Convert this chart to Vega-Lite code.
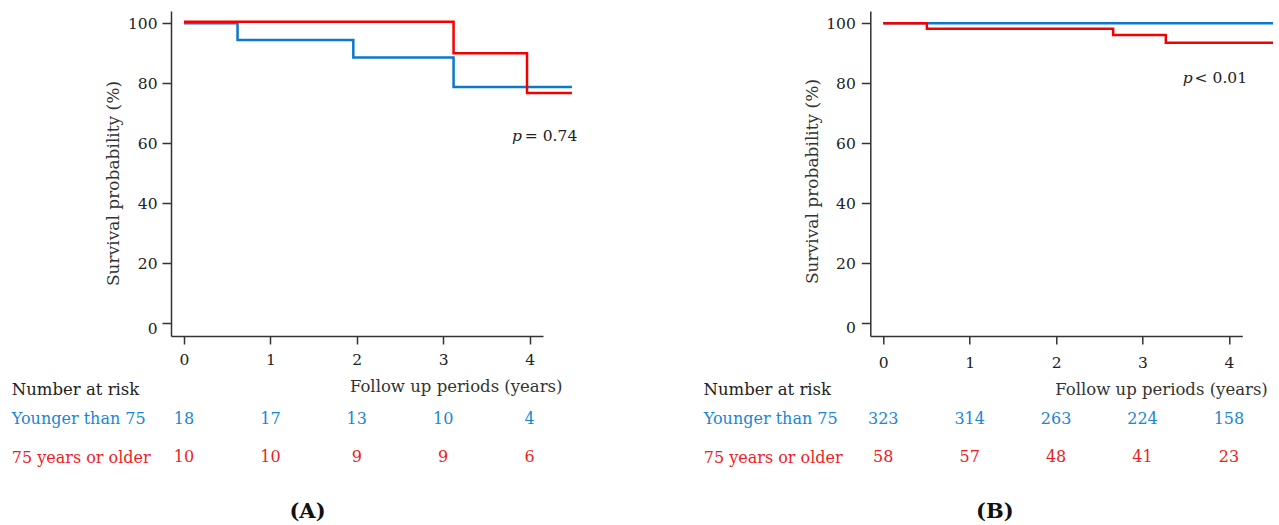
{
  "$schema": "https://vega.github.io/schema/vega-lite/v6.json",
  "background": "white",
  "padding": {"left": 11, "top": 11, "right": 5, "bottom": 5},
  "config": {
    "font": "DejaVu Serif",
    "view": {"stroke": null},
    "axis": {
      "grid": false,
      "domainColor": "#333333",
      "domainWidth": 1.5,
      "tickColor": "#333333",
      "tickWidth": 1.5,
      "labelColor": "#222222",
      "titleColor": "#333333",
      "labelFont": "DejaVu Serif",
      "titleFont": "DejaVu Serif",
      "labelFontSize": 15.5,
      "titleFontSize": 16.5,
      "titleFontWeight": "normal",
      "labelFlush": false
    },
    "text": {"font": "DejaVu Serif"}
  },
  "datasets": {
    "survA": [
      {"time": 0, "surv": 100, "group": "Younger than 75"},
      {"time": 0.62, "surv": 94.4, "group": "Younger than 75"},
      {"time": 1.96, "surv": 88.6, "group": "Younger than 75"},
      {"time": 3.12, "surv": 78.8, "group": "Younger than 75"},
      {"time": 4.49, "surv": 78.8, "group": "Younger than 75"},
      {"time": 0, "surv": 100.5, "group": "75 years or older"},
      {"time": 3.12, "surv": 90.0, "group": "75 years or older"},
      {"time": 3.97, "surv": 76.8, "group": "75 years or older"},
      {"time": 4.49, "surv": 76.8, "group": "75 years or older"}
    ],
    "survB": [
      {"time": 0, "surv": 100, "group": "Younger than 75"},
      {"time": 4.51, "surv": 100, "group": "Younger than 75"},
      {"time": 0, "surv": 100, "group": "75 years or older"},
      {"time": 0.505, "surv": 98.2, "group": "75 years or older"},
      {"time": 2.66, "surv": 96.1, "group": "75 years or older"},
      {"time": 3.27, "surv": 93.5, "group": "75 years or older"},
      {"time": 4.51, "surv": 93.5, "group": "75 years or older"}
    ],
    "riskA": [
      {"time": 0, "n": 18, "group": "Younger than 75"},
      {"time": 1, "n": 17, "group": "Younger than 75"},
      {"time": 2, "n": 13, "group": "Younger than 75"},
      {"time": 3, "n": 10, "group": "Younger than 75"},
      {"time": 4, "n": 4, "group": "Younger than 75"},
      {"time": 0, "n": 10, "group": "75 years or older"},
      {"time": 1, "n": 10, "group": "75 years or older"},
      {"time": 2, "n": 9, "group": "75 years or older"},
      {"time": 3, "n": 9, "group": "75 years or older"},
      {"time": 4, "n": 6, "group": "75 years or older"}
    ],
    "riskB": [
      {"time": 0, "n": 323, "group": "Younger than 75"},
      {"time": 1, "n": 314, "group": "Younger than 75"},
      {"time": 2, "n": 263, "group": "Younger than 75"},
      {"time": 3, "n": 224, "group": "Younger than 75"},
      {"time": 4, "n": 158, "group": "Younger than 75"},
      {"time": 0, "n": 58, "group": "75 years or older"},
      {"time": 1, "n": 57, "group": "75 years or older"},
      {"time": 2, "n": 48, "group": "75 years or older"},
      {"time": 3, "n": 41, "group": "75 years or older"},
      {"time": 4, "n": 23, "group": "75 years or older"}
    ]
  },
  "columns": 2,
  "bounds": "flush",
  "spacing": {"row": 63.5, "column": 327.3},
  "resolve": {"scale": {"color": "independent"}},
  "concat": [
    {
      "width": 372,
      "height": 325,
      "layer": [
        {
          "data": {"name": "survA"},
          "mark": {"type": "line", "interpolate": "step-after", "strokeWidth": 2.5, "clip": false},
          "encoding": {
            "x": {
              "field": "time", "type": "quantitative",
              "scale": {"domain": [-0.15, 4.155], "nice": false, "zero": false},
              "axis": {
                "values": [0, 1, 2, 3, 4], "format": "d", "tickSize": 8, "labelPadding": 20,
                "labelBaseline": "alphabetic", "labelAngle": 0,
                "title": "Follow up periods (years)", "titleX": 391, "titleY": 55,
                "titleAlign": "right", "titleBaseline": "alphabetic"
              }
            },
            "y": {
              "field": "surv", "type": "quantitative",
              "scale": {"domain": [-4.2, 104.1], "nice": false, "zero": false},
              "axis": {
                "values": [0, 20, 40, 60, 80, 100], "tickSize": 9, "labelPadding": 5,
                "labelOffset": {"condition": {"test": "datum.value == 0", "value": 5}, "value": 0},
                "title": "Survival probability (%)", "titleX": -57.5, "titleY": 172,
                "titleBaseline": "middle", "titleAlign": "center", "titleAngle": -90, "titleFontSize": 17
              }
            },
            "color": {
              "field": "group", "type": "nominal",
              "scale": {"domain": ["Younger than 75", "75 years or older"], "range": ["#0b78cc", "#f50000"]},
              "legend": null
            }
          }
        },
        {
          "data": {"values": [{}]},
          "mark": {"type": "text", "fontStyle": "italic", "align": "right", "baseline": "alphabetic", "fontSize": 15.5, "color": "#222222"},
          "encoding": {"x": {"datum": 3.91}, "y": {"datum": 60.8}, "text": {"value": "p"}}
        },
        {
          "data": {"values": [{}]},
          "mark": {"type": "text", "align": "left", "baseline": "alphabetic", "fontSize": 15.5, "dx": 3, "color": "#222222"},
          "encoding": {"x": {"datum": 3.91}, "y": {"datum": 60.8}, "text": {"value": "= 0.74"}}
        }
      ]
    },
    {
      "width": 372,
      "height": 325,
      "layer": [
        {
          "data": {"name": "survB"},
          "mark": {"type": "line", "interpolate": "step-after", "strokeWidth": 2.5, "clip": false},
          "encoding": {
            "x": {
              "field": "time", "type": "quantitative",
              "scale": {"domain": [-0.15, 4.155], "nice": false, "zero": false},
              "axis": {
                "values": [0, 1, 2, 3, 4], "format": "d", "tickSize": 8, "labelPadding": 23,
                "labelBaseline": "alphabetic", "labelAngle": 0,
                "title": "Follow up periods (years)", "titleX": 397, "titleY": 58,
                "titleAlign": "right", "titleBaseline": "alphabetic"
              }
            },
            "y": {
              "field": "surv", "type": "quantitative",
              "scale": {"domain": [-4.2, 104.1], "nice": false, "zero": false},
              "axis": {
                "values": [0, 20, 40, 60, 80, 100], "tickSize": 9, "labelPadding": 6,
                "labelOffset": {"condition": {"test": "datum.value == 0", "value": 4}, "value": 0},
                "title": "Survival probability (%)", "titleX": -58.3, "titleY": 170,
                "titleBaseline": "middle", "titleAlign": "center", "titleAngle": -90, "titleFontSize": 17
              }
            },
            "color": {
              "field": "group", "type": "nominal",
              "scale": {"domain": ["Younger than 75", "75 years or older"], "range": ["#0b78cc", "#f50000"]},
              "legend": null
            }
          }
        },
        {
          "data": {"values": [{}]},
          "mark": {"type": "text", "fontStyle": "italic", "align": "right", "baseline": "alphabetic", "fontSize": 15.5, "color": "#222222"},
          "encoding": {"x": {"datum": 3.58}, "y": {"datum": 80.1}, "text": {"value": "p"}}
        },
        {
          "data": {"values": [{}]},
          "mark": {"type": "text", "align": "left", "baseline": "alphabetic", "fontSize": 15.5, "dx": 2, "color": "#222222"},
          "encoding": {"x": {"datum": 3.58}, "y": {"datum": 80.1}, "text": {"value": "< 0.01"}}
        }
      ]
    },
    {
      "width": 372,
      "height": 77,
      "data": {"name": "riskA"},
      "mark": {"type": "text", "fontSize": 16, "baseline": "middle", "align": "center"},
      "encoding": {
        "x": {
          "field": "time", "type": "quantitative",
          "scale": {"domain": [-0.15, 4.155], "nice": false, "zero": false},
          "axis": {
            "labels": false, "ticks": false, "domain": false,
            "title": "(A)", "titleFontWeight": "bold", "titleFontSize": 21, "titleColor": "#111111",
            "titleX": 136, "titleY": 41, "titleAlign": "center", "titleBaseline": "alphabetic"
          }
        },
        "y": {
          "field": "group", "type": "nominal",
          "scale": {"type": "point", "domain": ["Younger than 75", "75 years or older"], "padding": 0.5},
          "axis": {
            "title": "Number at risk", "titleAngle": 0, "titleAlign": "left", "titleBaseline": "alphabetic",
            "titleX": -159.7, "titleY": -5, "titleFontSize": 16.5, "titleColor": "#222222",
            "labelAlign": "left", "labelPadding": 159.7, "ticks": false, "tickSize": 0, "domain": false,
            "labelFontSize": 16,
            "labelColor": {"condition": {"test": "datum.value == 'Younger than 75'", "value": "#1a86d4"}, "value": "#ee1d23"}
          }
        },
        "text": {"field": "n", "type": "quantitative"},
        "color": {
          "field": "group", "type": "nominal",
          "scale": {"domain": ["Younger than 75", "75 years or older"], "range": ["#1a86d4", "#ee1d23"]},
          "legend": null
        }
      }
    },
    {
      "width": 372,
      "height": 77,
      "data": {"name": "riskB"},
      "mark": {"type": "text", "fontSize": 16, "baseline": "middle", "align": "center"},
      "encoding": {
        "x": {
          "field": "time", "type": "quantitative",
          "scale": {"domain": [-0.15, 4.155], "nice": false, "zero": false},
          "axis": {
            "labels": false, "ticks": false, "domain": false,
            "title": "(B)", "titleFontWeight": "bold", "titleFontSize": 21, "titleColor": "#111111",
            "titleX": 124, "titleY": 41, "titleAlign": "center", "titleBaseline": "alphabetic"
          }
        },
        "y": {
          "field": "group", "type": "nominal",
          "scale": {"type": "point", "domain": ["Younger than 75", "75 years or older"], "padding": 0.5},
          "axis": {
            "title": "Number at risk", "titleAngle": 0, "titleAlign": "left", "titleBaseline": "alphabetic",
            "titleX": -167.3, "titleY": -5.5, "titleFontSize": 16.5, "titleColor": "#222222",
            "labelAlign": "left", "labelPadding": 167, "ticks": false, "tickSize": 0, "domain": false,
            "labelFontSize": 16,
            "labelColor": {"condition": {"test": "datum.value == 'Younger than 75'", "value": "#1a86d4"}, "value": "#ee1d23"}
          }
        },
        "text": {"field": "n", "type": "quantitative"},
        "color": {
          "field": "group", "type": "nominal",
          "scale": {"domain": ["Younger than 75", "75 years or older"], "range": ["#1a86d4", "#ee1d23"]},
          "legend": null
        }
      }
    }
  ]
}
